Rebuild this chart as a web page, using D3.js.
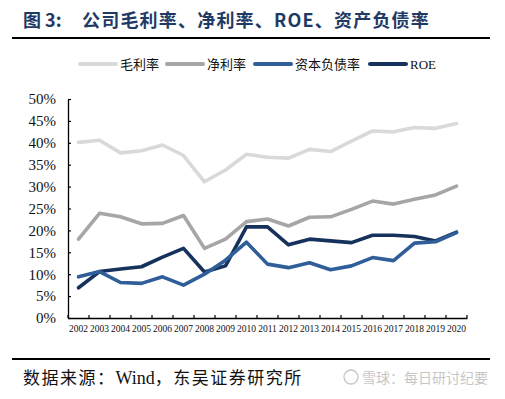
<!DOCTYPE html>
<html>
<head>
<meta charset="utf-8">
<script src="https://cdn.jsdelivr.net/npm/d3@7"></script>
<style>
  body { margin: 0; background: #fff; }
  svg { display: block; }
</style>
</head>
<body>
<div class="canvas"></div>
<script>
// data (fractions)
const years = ['2002','2003','2004','2005','2006','2007','2008','2009','2010','2011',
  '2012','2013','2014','2015','2016','2017','2018','2019','2020'];
const grossMargin = [0.401,0.406,0.377,0.382,0.395,0.371,0.311,0.338,0.374,0.367,
  0.365,0.385,0.380,0.404,0.427,0.425,0.435,0.433,0.444];
const netMargin = [0.180,0.239,0.231,0.215,0.216,0.234,0.159,0.180,0.220,0.226,
  0.210,0.230,0.231,0.248,0.267,0.260,0.271,0.281,0.301];
const debtRatio = [0.094,0.106,0.081,0.079,0.094,0.075,0.100,0.132,0.173,0.123,
  0.115,0.126,0.110,0.119,0.138,0.131,0.171,0.174,0.195];
const roe = [0.069,0.106,0.112,0.117,0.139,0.159,0.105,0.119,0.208,0.208,
  0.167,0.180,0.176,0.172,0.189,0.189,0.186,0.176,0.196];
const yTicks = [0,0.05,0.1,0.15,0.2,0.25,0.3,0.35,0.4,0.45,0.5];

const series = [
  {name: '毛利率', values: grossMargin, color: '#d9d9d9'},
  {name: '净利率', values: netMargin, color: '#a6a6a6'},
  {name: 'ROE', values: roe, color: '#16325c'},
  {name: '资本负债率', values: debtRatio, color: '#2f5e98'}
];
const legendOrder = ['毛利率', '净利率', '资本负债率', 'ROE'];

const W = 505, H = 399;
const margin = {top: 99, right: 38, bottom: 81, left: 68};

const svg = d3.select('.canvas').append('svg')
    .attr('width', W)
    .attr('height', H);

// title and rules
const title = svg.append('g')
    .attr('fill', '#1f3a64')
    .attr('font-family', '"Noto Sans CJK SC", sans-serif')
    .attr('font-weight', 'bold')
    .attr('font-size', 18);
title.append('text')
    .attr('x', 23).attr('y', 27)
    .text('图 3:');
title.append('text')
    .attr('x', 82).attr('y', 27)
    .attr('letter-spacing', 1.2)
    .text('公司毛利率、净利率、ROE、资产负债率');

svg.append('line')
    .attr('x1', 12).attr('x2', 490).attr('y1', 38).attr('y2', 38)
    .attr('stroke', '#000').attr('stroke-width', 2);

svg.append('line')
    .attr('x1', 12).attr('x2', 490).attr('y1', 359).attr('y2', 359)
    .attr('stroke', '#000').attr('stroke-width', 2);

// source note, CJK parts spaced a little wider
const source = svg.append('text')
    .attr('x', 23).attr('y', 384)
    .attr('fill', '#111')
    .attr('font-family', '"Noto Sans CJK SC", sans-serif')
    .attr('font-size', 17);
source.append('tspan').attr('letter-spacing', 1.5).text('数据来源：');
source.append('tspan').attr('font-family', '"Liberation Serif", serif').attr('font-size', 18).text('Wind');
source.append('tspan').attr('letter-spacing', 1.5).text('，东吴证券研究所');

// watermark
const wm = svg.append('g').attr('opacity', 0.55);
wm.append('circle').attr('cx', 351).attr('cy', 377).attr('r', 7)
    .attr('fill', 'none').attr('stroke', '#999').attr('stroke-width', 1.3);
wm.append('text')
    .attr('x', 362).attr('y', 383)
    .attr('fill', '#999')
    .attr('font-family', '"Noto Sans CJK SC", sans-serif')
    .attr('font-size', 14)
    .text('雪球：每日研讨纪要');

// plot area
const width = W - margin.left - margin.right,
    height = H - margin.top - margin.bottom;

const graph = svg.append('g')
    .attr('transform', `translate(${margin.left}, ${margin.top})`);

const x = d3.scaleBand()
    .domain(years)
    .range([0, width]);

const y = d3.scaleLinear()
    .domain([0, 0.5])
    .range([height, 0]);

// axes with inward ticks
const xAxis = graph.append('g')
    .attr('transform', `translate(0, ${height})`)
    .call(d3.axisBottom(x).tickSize(0).tickPadding(7));
xAxis.select('.domain').attr('stroke', '#000').attr('stroke-width', 1.3);
xAxis.selectAll('text')
    .attr('font-family', '"Liberation Serif", serif')
    .attr('font-size', 9.5)
    .attr('fill', '#111');

// band boundary ticks pointing up
graph.append('g')
  .selectAll('line')
  .data(years.concat(['end']))
  .enter()
  .append('line')
    .attr('x1', (d, i) => i * x.step())
    .attr('x2', (d, i) => i * x.step())
    .attr('y1', height)
    .attr('y2', height - 3)
    .attr('stroke', '#000')
    .attr('stroke-width', 1.2);

const yAxis = graph.append('g')
    .call(d3.axisLeft(y).tickValues(yTicks).tickFormat(d3.format('.0%'))
      .tickSizeInner(-3).tickSizeOuter(0).tickPadding(12));
yAxis.select('.domain').attr('stroke', '#000').attr('stroke-width', 1.3);
yAxis.selectAll('.tick line').attr('stroke', '#000').attr('stroke-width', 1.2);
yAxis.selectAll('text')
    .attr('font-family', '"Liberation Serif", serif')
    .attr('font-size', 15)
    .attr('fill', '#111');

// lines
const line = d3.line()
    .x((d, i) => x(years[i]) + x.bandwidth() / 2)
    .y(d => y(d));

graph.selectAll('path.series')
  .data(series)
  .enter()
  .append('path')
    .attr('class', 'series')
    .attr('d', d => line(d.values))
    .attr('fill', 'none')
    .attr('stroke', d => d.color)
    .attr('stroke-width', 3.6)
    .attr('stroke-linejoin', 'round')
    .attr('stroke-linecap', 'round');

// legend
const legendX = [80, 167, 255, 370];
const legend = svg.append('g')
  .selectAll('g')
  .data(legendOrder.map(n => series.find(s => s.name === n)))
  .enter()
  .append('g')
    .attr('transform', (d, i) => `translate(${legendX[i]}, 64)`);

legend.append('line')
    .attr('x1', 0).attr('x2', 36)
    .attr('stroke', d => d.color)
    .attr('stroke-width', 4)
    .attr('stroke-linecap', 'round');

legend.append('text')
    .attr('x', 40).attr('y', 5)
    .attr('fill', '#111')
    .attr('font-family', d => d.name === 'ROE' ? '"Liberation Serif", serif' : '"Noto Sans CJK SC", sans-serif')
    .attr('font-size', 13)
    .text(d => d.name);
</script>
</body>
</html>
